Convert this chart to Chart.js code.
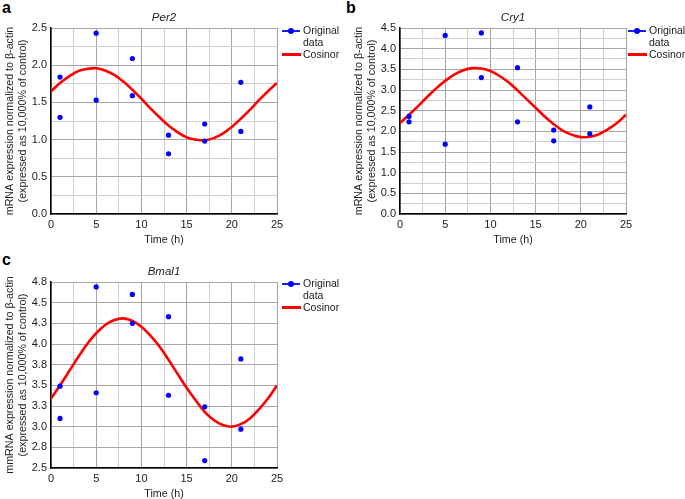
<!DOCTYPE html>
<html>
<head>
<meta charset="utf-8">
<script src="https://cdn.jsdelivr.net/npm/chart.js@4.4.0/dist/chart.umd.min.js"></script>
<style>
  body { margin: 0; width: 685px; height: 499px; position: relative; overflow: hidden; background: #fff;
         font-family: "Liberation Sans", Arial, sans-serif; color: #222; }
  .panel { position: absolute; }
  .letter { position: absolute; font-weight: bold; font-size: 16px; color: #000; }
  .legend { position: absolute; font-size: 10.5px; line-height: 12px; }
  .legend .row { position: relative; padding-left: 21px; }
  .legend .blue { position: absolute; left: 0; top: 6px; width: 18px; height: 1.5px; background: #1a1aff; }
  .legend .blue:after { content: ""; position: absolute; left: 6px; top: -2.5px; width: 6px; height: 6px; border-radius: 50%; background: #0000ff; }
  .legend .red { position: absolute; left: 0; top: 5px; width: 19px; height: 2.5px; background: #f00; }
</style>
</head>
<body>

<div class="letter" style="left:2px;top:-1px">a</div>
<div class="letter" style="left:346px;top:-1px">b</div>
<div class="letter" style="left:2px;top:251px">c</div>

<canvas id="chartA" class="panel" style="left:0;top:0" width="345" height="250"></canvas>
<canvas id="chartB" class="panel" style="left:349px;top:0" width="336" height="250"></canvas>
<canvas id="chartC" class="panel" style="left:0;top:254px" width="345" height="250"></canvas>

<div class="legend" style="left:282px;top:24px">
  <div class="row"><span class="blue"></span>Original<br>data</div>
  <div class="row"><span class="red"></span>Cosinor</div>
</div>
<div class="legend" style="left:628px;top:24px">
  <div class="row"><span class="blue"></span>Original<br>data</div>
  <div class="row"><span class="red"></span>Cosinor</div>
</div>
<div class="legend" style="left:282px;top:277px">
  <div class="row"><span class="blue"></span>Original<br>data</div>
  <div class="row"><span class="red"></span>Cosinor</div>
</div>

<script>
// sampling times of the original data (two replicates each)
const hours = [1, 1, 5, 5, 9, 9, 13, 13, 17, 17, 21, 21];
const per2Values  = [1.84, 1.30, 2.43, 1.53, 2.09, 1.59, 1.06, 0.81, 1.21, 0.98, 1.77, 1.11];
const cry1Values  = [2.36, 2.23, 4.32, 1.69, 4.38, 3.30, 3.54, 2.23, 2.03, 1.77, 2.59, 1.94];
const bmal1Values = [3.49, 3.10, 4.69, 3.41, 4.60, 4.25, 4.33, 3.38, 3.24, 2.59, 3.82, 2.97];

// cosinor curve, every hour
const fitHours = [0, 1, 2, 3, 4, 5, 6, 7, 8, 9, 10, 11, 12, 13, 14, 15, 16, 17, 18, 19, 20, 21, 22, 23, 24, 25];
const per2Fit  = [1.65, 1.76, 1.85, 1.92, 1.95, 1.96, 1.93, 1.87, 1.78, 1.67, 1.55, 1.42, 1.30, 1.19, 1.10, 1.03,
                  1.00, 0.99, 1.02, 1.08, 1.17, 1.28, 1.40, 1.53, 1.65, 1.76];
const cry1Fit  = [2.20, 2.40, 2.61, 2.83, 3.04, 3.22, 3.37, 3.48, 3.53, 3.52, 3.46, 3.34, 3.19, 2.99, 2.78, 2.57,
                  2.36, 2.17, 2.02, 1.92, 1.86, 1.87, 1.93, 2.05, 2.20, 2.40];
const bmal1Fit = [3.34, 3.50, 3.67, 3.84, 4.00, 4.13, 4.23, 4.29, 4.31, 4.28, 4.21, 4.10, 3.97, 3.81, 3.64, 3.47,
                  3.32, 3.18, 3.08, 3.02, 3.00, 3.03, 3.10, 3.21, 3.34, 3.50];

const xTickValues = [0, 5, 10, 15, 20, 25];
const xTickLabels = ['0', '5', '10', '15', '20', '25'];
const per2TickValues = [0, 0.5, 1, 1.5, 2, 2.5];
const per2TickLabels = ['0.0', '0.5', '1.0', '1.5', '2.0', '2.5'];
const cry1TickValues = [0, 0.5, 1, 1.5, 2, 2.5, 3, 3.5, 4, 4.5];
const cry1TickLabels = ['0.0', '0.5', '1.0', '1.5', '2.0', '2.5', '3.0', '3.5', '4.0', '4.5'];
const bmal1TickValues = [2.5, 2.75, 3, 3.25, 3.5, 3.75, 4, 4.25, 4.5, 4.75];
const bmal1TickLabels = ['2.5', '2.8', '3.0', '3.3', '3.5', '3.8', '4.0', '4.3', '4.5', '4.8'];

const FONT = '"Liberation Sans", Arial, sans-serif';

function findIdx(list, v) {
    for (var i = 0; i < list.length; i++) {
        if (Math.abs(list[i] - v) < 1e-6) return i;
    }
    return -1;
}

function makeChart(id, title, yTitle, values, fit, yMin, yMax, yTickValues, yTickLabels, padRight) {
    var ctx = document.getElementById(id);
    return new Chart(ctx, {
        type: 'scatter',
        data: {
            datasets: [{
                data: hours.map((h, i) => ({ x: h, y: values[i] })),
                pointRadius: 2.6,
                pointBackgroundColor: '#0000ff',
                pointBorderWidth: 0,
                showLine: false,
                order: 0
            }, {
                data: fitHours.map((h, i) => ({ x: h, y: fit[i] })),
                showLine: true,
                borderColor: '#f00',
                borderWidth: 2.6,
                pointRadius: 0,
                tension: 0.4,
                order: 1
            }]
        },
        options: {
            responsive: false,
            animation: false,
            layout: { padding: { left: 0, right: padRight, top: 0, bottom: 0 } },
            plugins: {
                legend: { display: false },
                tooltip: { enabled: false },
                title: {
                    display: true,
                    text: title,
                    fullSize: false,
                    color: '#222',
                    font: { family: FONT, size: 11.5, style: 'italic', weight: 'normal', lineHeight: '13px' },
                    padding: { top: 11, bottom: 4 }
                }
            },
            scales: {
                x: {
                    type: 'linear',
                    min: 0,
                    max: 25,
                    afterFit: (scale) => { scale.height = 36; },
                    border: { color: '#000', width: 1.5 },
                    grid: {
                        drawTicks: false,
                        color: (c) => findIdx(xTickValues, c.tick.value) >= 0 ? '#a6a6a6' : '#cfcfcf',
                        lineWidth: 1
                    },
                    ticks: {
                        stepSize: 2.5,
                        autoSkip: false,
                        maxRotation: 0,
                        padding: 4,
                        color: '#222',
                        font: { family: FONT, size: 11 },
                        callback: (v) => { var i = findIdx(xTickValues, v); return i >= 0 ? xTickLabels[i] : ''; }
                    },
                    title: {
                        display: true,
                        text: 'Time (h)',
                        color: '#222',
                        font: { family: FONT, size: 10.7 },
                        padding: { top: 2, bottom: 4 }
                    }
                },
                y: {
                    type: 'linear',
                    min: yMin,
                    max: yMax,
                    afterFit: (scale) => { scale.width = 51; },
                    border: { color: '#000', width: 1.5 },
                    grid: {
                        drawTicks: false,
                        color: (c) => findIdx(yTickValues, c.tick.value) >= 0 ? '#a6a6a6' : '#cfcfcf',
                        lineWidth: 1
                    },
                    ticks: {
                        stepSize: 0.25,
                        autoSkip: false,
                        padding: 4,
                        color: '#222',
                        font: { family: FONT, size: 11 },
                        callback: (v) => { var i = findIdx(yTickValues, v); return i >= 0 ? yTickLabels[i] : ''; }
                    },
                    title: {
                        display: true,
                        text: yTitle,
                        color: '#222',
                        font: { family: FONT, size: 10.7, lineHeight: '13px' },
                        padding: { top: 4, bottom: 0 }
                    }
                }
            }
        }
    });
}

makeChart('chartA', 'Per2',
    ['mRNA expression normalized to β-actin', '(expressed as 10,000% of control)'],
    per2Values, per2Fit, 0, 2.5, per2TickValues, per2TickLabels, 68);
makeChart('chartB', 'Cry1',
    ['mRNA expression normalized to β-actin', '(expressed as 10,000% of control)'],
    cry1Values, cry1Fit, 0, 4.5, cry1TickValues, cry1TickLabels, 59);
makeChart('chartC', 'Bmal1',
    ['mmRNA expression normalized to β-actin', '(expressed as 10,000% of control)'],
    bmal1Values, bmal1Fit, 2.5, 4.75, bmal1TickValues, bmal1TickLabels, 68);
</script>
</body>
</html>
